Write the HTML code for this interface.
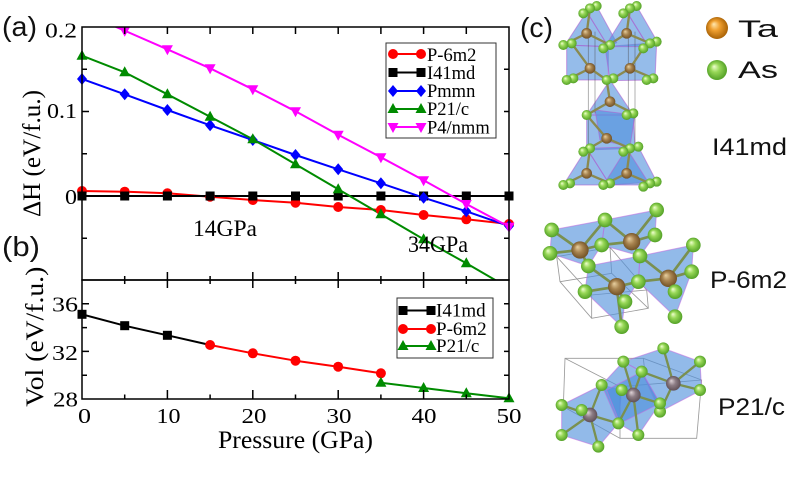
<!DOCTYPE html>
<html><head><meta charset="utf-8"><style>
html,body{margin:0;padding:0;background:#fff;}
svg{display:block;}
.s{font-family:"Liberation Serif",serif;fill:#000;}
.a{font-family:"Liberation Sans",sans-serif;fill:#111;}
</style></head><body>
<svg width="800" height="477" viewBox="0 0 800 477" xmlns="http://www.w3.org/2000/svg">
<defs>
<clipPath id="ct"><rect x="82" y="27" width="427" height="253"/></clipPath>
<clipPath id="cb"><rect x="82" y="280" width="427" height="119"/></clipPath>
<circle id="mc" r="5" fill="#f00"/>
<rect id="ms" x="-4.5" y="-4.5" width="9" height="9" fill="#000"/>
<polygon id="md" points="0,-6 5,0 0,6 -5,0" fill="#00f"/>
<polygon id="mt" points="0,-6 5.5,4 -5.5,4" fill="#008b00"/>
<polygon id="mv" points="0,6 5.5,-4 -5.5,-4" fill="#f0f"/>
<radialGradient id="gG" cx="50%" cy="50%" r="55%" fx="35%" fy="32%"><stop offset="0" stop-color="#f0ffd0"/><stop offset="0.4" stop-color="#98d858"/><stop offset="1" stop-color="#4a9a20"/></radialGradient>
<radialGradient id="gB" cx="50%" cy="50%" r="55%" fx="35%" fy="32%"><stop offset="0" stop-color="#e8d0a0"/><stop offset="0.45" stop-color="#a88450"/><stop offset="1" stop-color="#6a4a20"/></radialGradient>
<radialGradient id="gT" cx="50%" cy="50%" r="55%" fx="35%" fy="32%"><stop offset="0" stop-color="#ffe8b0"/><stop offset="0.4" stop-color="#f0a030"/><stop offset="1" stop-color="#a05a00"/></radialGradient>
<radialGradient id="gM" cx="50%" cy="50%" r="55%" fx="35%" fy="32%"><stop offset="0" stop-color="#e0d4d8"/><stop offset="0.45" stop-color="#8c7c84"/><stop offset="1" stop-color="#5a4a50"/></radialGradient>
</defs>

<!-- ===== Top panel ===== -->
<g clip-path="url(#ct)" fill="none" stroke-width="2" stroke-linejoin="round">
<polyline stroke="#f00" points="82,191 124.7,191.7 167.4,193.3 210.1,196.7 252.8,200 295.5,202.7 338.2,207 380.9,210 423.6,215 466.3,219.3 509,224"/>
<polyline stroke="#000" points="82,196 509,196"/>
<polyline stroke="#00f" points="82,79 124.7,94.3 167.4,110 210.1,125.3 252.8,140 295.5,155 338.2,169.3 380.9,183.3 423.6,197.7 466.3,211.3 509,226"/>
<polyline stroke="#008b00" points="82,55.7 124.7,72.3 167.4,94.3 210.1,116.7 252.8,139.3 295.5,164.3 338.2,189.3 380.9,214.3 423.6,239.3 466.3,263.3 509,288"/>
<polyline stroke="#f0f" points="82,12 124.7,30.7 167.4,49.3 210.1,68.3 252.8,89.3 295.5,111.3 338.2,134.7 380.9,157.3 423.6,180.3 466.3,204 509,226.7"/>
</g>
<g>
<use href="#mc" x="82" y="191"/><use href="#mc" x="124.7" y="191.7"/><use href="#mc" x="167.4" y="193.3"/><use href="#mc" x="210.1" y="196.7"/><use href="#mc" x="252.8" y="200"/><use href="#mc" x="295.5" y="202.7"/><use href="#mc" x="338.2" y="207"/><use href="#mc" x="380.9" y="210"/><use href="#mc" x="423.6" y="215"/><use href="#mc" x="466.3" y="219.3"/><use href="#mc" x="509" y="224"/>
<use href="#ms" x="82" y="196"/><use href="#ms" x="124.7" y="196"/><use href="#ms" x="167.4" y="196"/><use href="#ms" x="210.1" y="196"/><use href="#ms" x="252.8" y="196"/><use href="#ms" x="295.5" y="196"/><use href="#ms" x="338.2" y="196"/><use href="#ms" x="380.9" y="196"/><use href="#ms" x="423.6" y="196"/><use href="#ms" x="466.3" y="196"/><use href="#ms" x="509" y="196"/>
<use href="#md" x="82" y="79"/><use href="#md" x="124.7" y="94.3"/><use href="#md" x="167.4" y="110"/><use href="#md" x="210.1" y="125.3"/><use href="#md" x="252.8" y="140"/><use href="#md" x="295.5" y="155"/><use href="#md" x="338.2" y="169.3"/><use href="#md" x="380.9" y="183.3"/><use href="#md" x="423.6" y="197.7"/><use href="#md" x="466.3" y="211.3"/><use href="#md" x="509" y="226"/>
<use href="#mt" x="82" y="55.7"/><use href="#mt" x="124.7" y="72.3"/><use href="#mt" x="167.4" y="94.3"/><use href="#mt" x="210.1" y="116.7"/><use href="#mt" x="252.8" y="139.3"/><use href="#mt" x="295.5" y="164.3"/><use href="#mt" x="338.2" y="189.3"/><use href="#mt" x="380.9" y="214.3"/><use href="#mt" x="423.6" y="239.3"/><use href="#mt" x="466.3" y="263.3"/>
<use href="#mv" x="124.7" y="30.7"/><use href="#mv" x="167.4" y="49.3"/><use href="#mv" x="210.1" y="68.3"/><use href="#mv" x="252.8" y="89.3"/><use href="#mv" x="295.5" y="111.3"/><use href="#mv" x="338.2" y="134.7"/><use href="#mv" x="380.9" y="157.3"/><use href="#mv" x="423.6" y="180.3"/><use href="#mv" x="466.3" y="204"/><use href="#mv" x="509" y="226.7"/>
</g>

<!-- ===== Bottom panel ===== -->
<g clip-path="url(#cb)" fill="none" stroke-width="2" stroke-linejoin="round">
<polyline stroke="#000" points="82,314.3 124.7,325.7 167.4,335.3 210.1,345"/>
<polyline stroke="#f00" points="210.1,345 252.8,353.3 295.5,360.7 338.2,366.7 380.9,373.3"/>
<polyline stroke="#008b00" points="380.9,382.7 423.6,388 466.3,393.3 509,398.3"/>
</g>
<g>
<use href="#ms" x="82" y="314.3"/><use href="#ms" x="124.7" y="325.7"/><use href="#ms" x="167.4" y="335.3"/>
<use href="#mc" x="210.1" y="345"/><use href="#mc" x="252.8" y="353.3"/><use href="#mc" x="295.5" y="360.7"/><use href="#mc" x="338.2" y="366.7"/><use href="#mc" x="380.9" y="373.3"/>
<use href="#mt" x="380.9" y="382.7"/><use href="#mt" x="423.6" y="388"/><use href="#mt" x="466.3" y="393.3"/><use href="#mt" x="509" y="398.3"/>
</g>

<!-- ===== Frames & ticks ===== -->
<g stroke="#000" stroke-width="1.5" fill="none">
<rect x="82" y="27" width="427" height="253"/>
<rect x="82" y="280" width="427" height="119"/>
<path d="M124.7,27v7M167.4,27v7M210.1,27v7M252.8,27v7M295.5,27v7M338.2,27v7M380.9,27v7M423.6,27v7M466.3,27v7"/>
<path d="M124.7,276v8M167.4,272v16M210.1,276v8M252.8,272v16M295.5,276v8M338.2,272v16M380.9,276v8M423.6,272v16M466.3,276v8"/>
<path d="M124.7,399v-4.5M167.4,399v-9M210.1,399v-4.5M252.8,399v-9M295.5,399v-4.5M338.2,399v-9M380.9,399v-4.5M423.6,399v-9M466.3,399v-4.5"/>
<path d="M82,69.3h5M82,111.5h7M82,153.8h5M82,196h7M82,238.3h5"/>
<path d="M509,69.3h-5M509,111.5h-5M509,153.8h-5M509,196h-5M509,238.3h-5"/>
<path d="M82,303.8h7M82,327.6h5M82,351.4h7M82,375.2h5"/>
<path d="M509,303.8h-5M509,327.6h-5M509,351.4h-5M509,375.2h-5"/>
</g>

<!-- tick labels -->
<g class="s" font-size="21">
<text x="45" y="37.5" textLength="32" lengthAdjust="spacingAndGlyphs">0.2</text>
<text x="47" y="118" textLength="30" lengthAdjust="spacingAndGlyphs">0.1</text>
<text x="65" y="204" textLength="12" lengthAdjust="spacingAndGlyphs">0</text>
<text x="52" y="311.5" textLength="26" lengthAdjust="spacingAndGlyphs">36</text>
<text x="52" y="360" textLength="26" lengthAdjust="spacingAndGlyphs">32</text>
<text x="53" y="406.5" textLength="25" lengthAdjust="spacingAndGlyphs">28</text>
<text x="78" y="423" textLength="13" lengthAdjust="spacingAndGlyphs">0</text>
<text x="156.5" y="423" textLength="24" lengthAdjust="spacingAndGlyphs">10</text>
<text x="241.5" y="423" textLength="25" lengthAdjust="spacingAndGlyphs">20</text>
<text x="326.5" y="423" textLength="25" lengthAdjust="spacingAndGlyphs">30</text>
<text x="411.5" y="423" textLength="25" lengthAdjust="spacingAndGlyphs">40</text>
<text x="496.5" y="423" textLength="25" lengthAdjust="spacingAndGlyphs">50</text>
</g>
<text class="s" x="218" y="448" font-size="25" textLength="155" lengthAdjust="spacingAndGlyphs">Pressure (GPa)</text>
<text class="s" transform="translate(40,217) rotate(-90)" x="0" y="0" font-size="25" textLength="127" lengthAdjust="spacingAndGlyphs">ΔH (eV/f.u.)</text>
<text class="s" transform="translate(43,406.7) rotate(-90)" x="0" y="0" font-size="25" textLength="140" lengthAdjust="spacingAndGlyphs">Vol (eV/f.u.)</text>
<text class="s" x="193" y="236" font-size="23" textLength="64" lengthAdjust="spacingAndGlyphs">14GPa</text>
<text class="s" x="408" y="252" font-size="23" textLength="60" lengthAdjust="spacingAndGlyphs">34GPa</text>

<!-- legend top -->
<rect x="386" y="43" width="110" height="95" fill="#fff" stroke="#333" stroke-width="1"/>
<g stroke-width="2">
<line x1="393" y1="54" x2="421" y2="54" stroke="#f00"/><use href="#mc" x="393" y="54"/><use href="#mc" x="421" y="54"/>
<line x1="393" y1="72.5" x2="421" y2="72.5" stroke="#000"/><use href="#ms" x="393" y="72.5"/><use href="#ms" x="421" y="72.5"/>
<line x1="393" y1="91" x2="421" y2="91" stroke="#00f"/><use href="#md" x="393" y="91"/><use href="#md" x="421" y="91"/>
<line x1="393" y1="109" x2="421" y2="109" stroke="#008b00"/><use href="#mt" x="393" y="109"/><use href="#mt" x="421" y="109"/>
<line x1="393" y1="127" x2="421" y2="127" stroke="#f0f"/><use href="#mv" x="393" y="127"/><use href="#mv" x="421" y="127"/>
</g>
<g class="s" font-size="18.5">
<text x="427" y="61">P-6m2</text>
<text x="427" y="79">I41md</text>
<text x="427" y="97">Pmmn</text>
<text x="427" y="115">P21/c</text>
<text x="427" y="133.3">P4/nmm</text>
</g>

<!-- legend bottom -->
<rect x="397" y="298" width="96" height="60" fill="#fff" stroke="#333" stroke-width="1"/>
<g stroke-width="2">
<line x1="403" y1="310.5" x2="431" y2="310.5" stroke="#000"/><use href="#ms" x="403" y="310.5"/><use href="#ms" x="431" y="310.5"/>
<line x1="403" y1="329" x2="431" y2="329" stroke="#f00"/><use href="#mc" x="403" y="329"/><use href="#mc" x="431" y="329"/>
<line x1="403" y1="346" x2="431" y2="346" stroke="#008b00"/><use href="#mt" x="403" y="346"/><use href="#mt" x="431" y="346"/>
</g>
<g class="s" font-size="19">
<text x="436" y="316.5">I41md</text>
<text x="436" y="335">P-6m2</text>
<text x="436" y="352">P21/c</text>
</g>

<!-- panel letters -->
<text class="a" x="2" y="36" font-size="28" textLength="35" lengthAdjust="spacingAndGlyphs">(a)</text>
<text class="a" x="2" y="256" font-size="28" textLength="38" lengthAdjust="spacingAndGlyphs">(b)</text>
<text class="a" x="520" y="37" font-size="28" textLength="33" lengthAdjust="spacingAndGlyphs">(c)</text>

<!-- species legend -->
<circle cx="717" cy="28" r="11" fill="url(#gT)"/>
<circle cx="717" cy="70" r="10" fill="url(#gG)"/>
<g class="a" font-size="24">
<text x="738" y="37" textLength="40" lengthAdjust="spacingAndGlyphs">Ta</text>
<text x="738" y="78" textLength="40" lengthAdjust="spacingAndGlyphs">As</text>
<text x="712" y="155" textLength="75" lengthAdjust="spacingAndGlyphs">I41md</text>
<text x="710" y="288" textLength="77" lengthAdjust="spacingAndGlyphs">P-6m2</text>
<text x="718" y="415" textLength="67" lengthAdjust="spacingAndGlyphs">P21/c</text>
</g>

<!-- ===== I41md structure ===== -->
<g transform="translate(520,0) scale(0.33333)">
<g fill="#4f8fdc" fill-opacity="0.6" stroke="#b060d0" stroke-opacity="0.6" stroke-width="3">
<polygon points="140,135 265,140 265,240 140,240"/>
<polygon points="255,140 410,128 405,240 270,242"/>
<polygon points="200,35 230,18 290,128 265,140"/>
<polygon points="320,35 350,18 412,125 385,140"/>
<polygon points="135,135 200,35 265,140"/>
<polygon points="255,140 320,35 385,140"/>
<polygon points="270,240 340,345 200,345"/>
<polygon points="200,345 340,345 345,445 200,450"/>
<polygon points="225,330 345,345 330,440 240,420"/>
<polygon points="200,445 355,440 410,545 270,555"/>
<polygon points="130,555 200,445 270,555"/>
<polygon points="250,555 320,445 390,555"/>
</g>
<g stroke="#444" stroke-opacity="0.5" stroke-width="2.5">
<line x1="205" y1="100" x2="205" y2="445"/><line x1="345" y1="95" x2="345" y2="440"/>
<line x1="225" y1="95" x2="225" y2="340"/><line x1="325" y1="95" x2="325" y2="340"/>
</g>
<g stroke="#8a8a50" stroke-width="7">
<path d="M200,100L130,135M200,100L270,135M200,100L210,25M320,100L250,145M320,100L390,130M320,100L330,25"/>
<path d="M210,205L140,240M210,205L260,240M210,205L155,130M330,205L280,235M330,205L400,235M330,205L370,145"/>
<path d="M270,305L200,345M270,305L340,340M270,305L260,240M260,415L190,455M260,415L330,445M260,415L200,345"/>
<path d="M200,520L130,555M200,520L270,550M200,520L210,445M320,520L250,555M320,520L390,550M320,520L330,445"/>
</g>
<g fill="url(#gG)">
<circle cx="230" cy="18" r="15"/><circle cx="210" cy="25" r="15"/><circle cx="190" cy="40" r="15"/>
<circle cx="350" cy="18" r="15"/><circle cx="330" cy="25" r="15"/><circle cx="310" cy="40" r="15"/>
<circle cx="155" cy="130" r="15"/><circle cx="130" cy="135" r="15"/><circle cx="270" cy="135" r="15"/><circle cx="250" cy="145" r="15"/>
<circle cx="410" cy="125" r="15"/><circle cx="390" cy="130" r="15"/><circle cx="370" cy="145" r="15"/>
<circle cx="160" cy="235" r="15"/><circle cx="140" cy="240" r="15"/><circle cx="280" cy="235" r="15"/><circle cx="260" cy="240" r="15"/>
<circle cx="400" cy="235" r="15"/><circle cx="380" cy="240" r="15"/>
<circle cx="340" cy="340" r="15"/><circle cx="320" cy="345" r="15"/><circle cx="200" cy="345" r="15"/>
<circle cx="210" cy="445" r="15"/><circle cx="190" cy="455" r="15"/><circle cx="355" cy="440" r="15"/><circle cx="330" cy="445" r="15"/><circle cx="310" cy="455" r="15"/>
<circle cx="150" cy="550" r="15"/><circle cx="130" cy="555" r="15"/><circle cx="270" cy="550" r="15"/><circle cx="250" cy="555" r="15"/>
<circle cx="410" cy="545" r="15"/><circle cx="390" cy="550" r="15"/><circle cx="370" cy="560" r="15"/>
</g>
<g fill="url(#gB)">
<circle cx="200" cy="100" r="16"/><circle cx="320" cy="100" r="16"/><circle cx="210" cy="205" r="16"/><circle cx="330" cy="205" r="16"/>
<circle cx="270" cy="305" r="16"/><circle cx="260" cy="415" r="16"/><circle cx="200" cy="520" r="16"/><circle cx="320" cy="520" r="16"/>
</g>
</g>

<!-- ===== P-6m2 structure ===== -->
<g transform="translate(520,190) scale(0.33333)">
<g fill="none" stroke="#555" stroke-opacity="0.6" stroke-width="2.5">
<path d="M110,200L270,172L380,300L385,355L215,385L120,275Z M120,275L275,250L385,355 M270,172L275,250 M110,200L215,315L380,300 M215,315L215,385"/>
</g>
<g fill="#4f8fdc" fill-opacity="0.62" stroke="#c070e0" stroke-opacity="0.6" stroke-width="3">
<polygon points="95,120 255,90 245,165 205,228 90,190"/>
<polygon points="255,90 410,60 405,135 360,198 245,165"/>
<polygon points="205,228 360,198 355,275 315,335 305,410 195,305"/>
<polygon points="360,198 520,165 515,245 465,380 355,275"/>
</g>
<g stroke="#7a9050" stroke-width="8">
<path d="M180,180L95,120M180,180L255,90M180,180L90,190M180,180L245,165M180,180L205,228"/>
<path d="M335,155L255,90M335,155L410,60M335,155L405,135M335,155L245,165M335,155L360,198"/>
<path d="M290,290L205,228M290,290L195,305M290,290L315,335M290,290L355,275M290,290L305,410"/>
<path d="M445,265L360,198M445,265L520,165M445,265L515,245M445,265L465,305M445,265L355,275"/>
</g>
<g fill="url(#gG)">
<circle cx="410" cy="60" r="22"/><circle cx="255" cy="90" r="22"/><circle cx="95" cy="120" r="22"/><circle cx="405" cy="135" r="22"/>
<circle cx="245" cy="165" r="22"/><circle cx="90" cy="190" r="22"/><circle cx="520" cy="165" r="22"/><circle cx="515" cy="245" r="22"/>
</g>
<g fill="url(#gB)">
<circle cx="180" cy="180" r="26"/><circle cx="335" cy="155" r="26"/><circle cx="290" cy="290" r="26"/><circle cx="445" cy="265" r="26"/>
</g>
<g fill="url(#gG)">
<circle cx="360" cy="198" r="22"/><circle cx="205" cy="228" r="22"/><circle cx="355" cy="275" r="22"/><circle cx="195" cy="305" r="22"/>
<circle cx="465" cy="305" r="22"/><circle cx="315" cy="335" r="22"/><circle cx="465" cy="380" r="22"/><circle cx="305" cy="410" r="22"/>
</g>
</g>

<!-- ===== P21/c structure ===== -->
<g transform="translate(520,330) scale(0.33333)">
<g fill="none" stroke="#555" stroke-opacity="0.6" stroke-width="2.5">
<path d="M135,85L370,85L545,150L530,325L300,325L130,230Z M135,85L300,170L300,325 M300,170L545,150 M370,85L375,130"/>
</g>
<g fill="#4f8fdc" fill-opacity="0.62" stroke="#c070e0" stroke-opacity="0.6" stroke-width="3">
<polygon points="125,225 245,165 305,180 295,280 235,350 125,315"/>
<polygon points="245,165 310,95 365,125 420,220 355,315 295,280"/>
<polygon points="310,95 430,55 540,95 545,180 420,245 365,125"/>
<polygon points="260,180 365,125 420,220 300,280"/>
</g>
<g stroke="#7a9050" stroke-width="7">
<path d="M210,255L125,225M210,255L185,240M210,255L245,165M210,255L295,280M210,255L125,315M210,255L235,350"/>
<path d="M340,195L305,180M340,195L310,95M340,195L365,125M340,195L420,220M340,195L295,280M340,195L355,315"/>
<path d="M460,160L430,55M460,160L540,95M460,160L540,180M460,160L420,245M460,160L365,125"/>
</g>
<g fill="url(#gG)">
<circle cx="430" cy="55" r="18"/><circle cx="540" cy="95" r="18"/><circle cx="310" cy="95" r="18"/><circle cx="365" cy="125" r="18"/>
<circle cx="245" cy="165" r="18"/><circle cx="540" cy="180" r="18"/>
</g>
<g fill="url(#gM)">
<circle cx="210" cy="255" r="22"/><circle cx="340" cy="195" r="22"/><circle cx="460" cy="160" r="22"/>
</g>
<g fill="url(#gG)">
<circle cx="305" cy="180" r="18"/><circle cx="125" cy="225" r="18"/><circle cx="185" cy="240" r="18"/><circle cx="420" cy="245" r="18"/>
<circle cx="420" cy="220" r="18"/><circle cx="295" cy="280" r="18"/><circle cx="125" cy="315" r="18"/><circle cx="355" cy="315" r="18"/>
<circle cx="235" cy="350" r="18"/>
</g>
</g>
</svg>
</body></html>
